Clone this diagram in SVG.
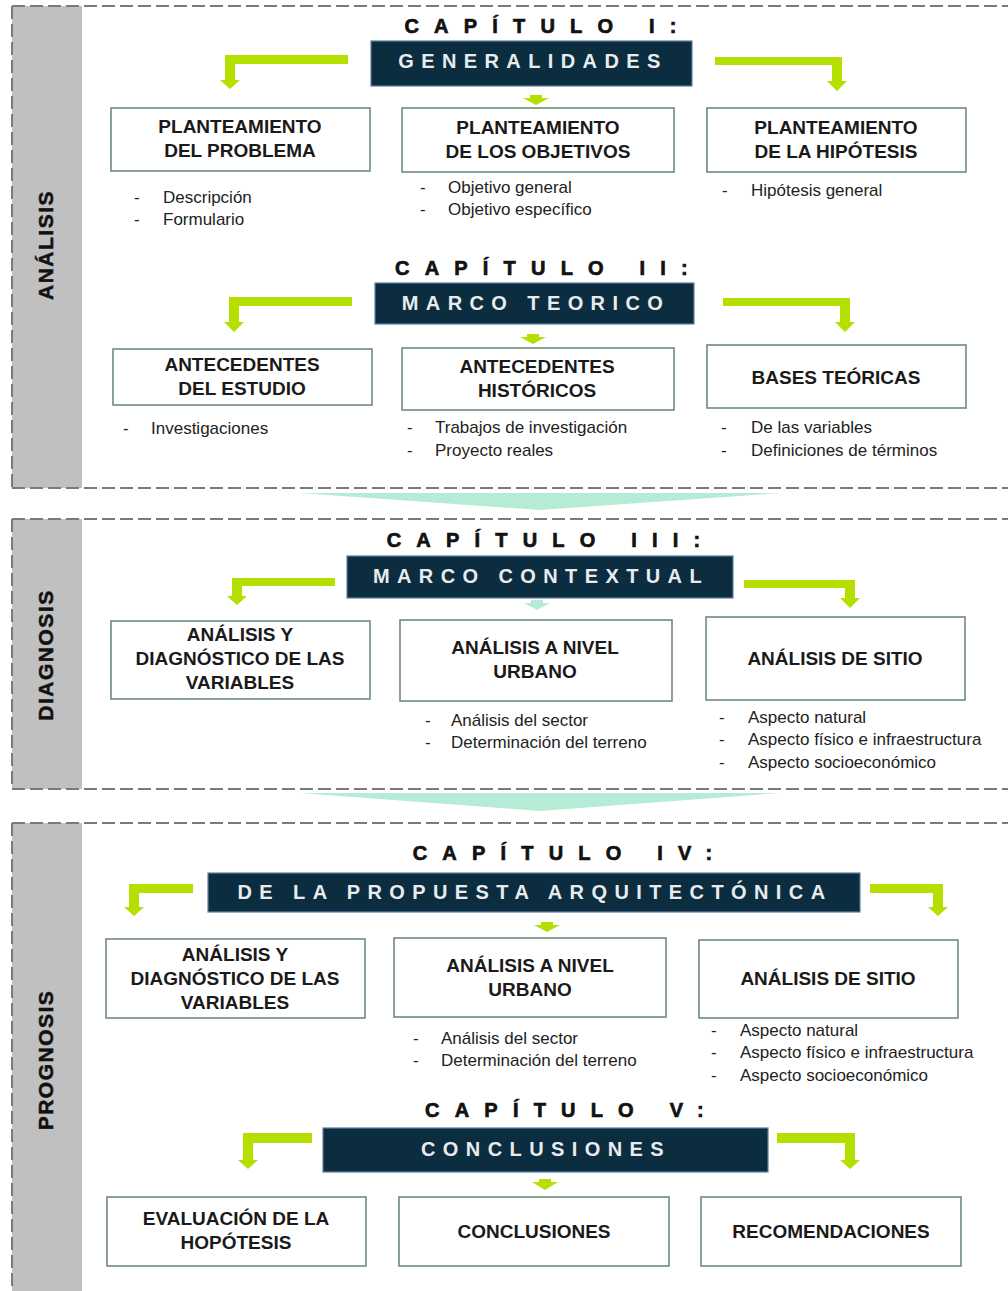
<svg xmlns="http://www.w3.org/2000/svg" width="1008" height="1291" viewBox="0 0 1008 1291">
<style>
.dash{stroke:#7a7a7a;stroke-width:2;stroke-dasharray:13 5;fill:none}
.side{fill:#c0c0c0}
.sidet{font-family:"Liberation Sans",Arial,sans-serif;font-weight:bold;font-size:21px;letter-spacing:1.5px;fill:#111;stroke:#111;stroke-width:0.5;text-anchor:middle}
.head{font-family:"Liberation Sans",Arial,sans-serif;font-weight:bold;font-size:20px;letter-spacing:15.2px;fill:#111;stroke:#111;stroke-width:0.7;text-anchor:middle}
.ban{fill:#0c2d3f;stroke:#5b7fa6;stroke-width:1.2}
.bant{font-family:"Liberation Sans",Arial,sans-serif;font-weight:bold;font-size:20px;letter-spacing:7.4px;fill:#e8ecee;text-anchor:middle}
.box{fill:#fff;stroke:#6d8c78;stroke-width:1.6}
.bt{font-family:"Liberation Sans",Arial,sans-serif;font-weight:bold;font-size:19px;fill:#1a1a1a;text-anchor:middle}
.li{font-family:"Liberation Sans",Arial,sans-serif;font-size:17px;fill:#222}
.lime{fill:#b4df00}
.mint{fill:#b6ecd6}
</style>

<g id="sections">
  <rect class="side" x="12" y="6" width="70" height="482"/>
  <path class="dash" d="M12 6H1008M12 488H1008M12 6V488"/>
  <rect class="side" x="12" y="519" width="70" height="270"/>
  <path class="dash" d="M12 519H1008M12 789H1008M12 519V789"/>
  <rect class="side" x="12" y="823" width="70" height="468"/>
  <path class="dash" d="M12 823H1008M12 823V1291"/>
  <text class="sidet" transform="translate(53,245) rotate(-90)">ANÁLISIS</text>
  <text class="sidet" transform="translate(53,655) rotate(-90)">DIAGNOSIS</text>
  <text class="sidet" transform="translate(53,1060) rotate(-90)">PROGNOSIS</text>
  <polygon class="mint" points="300,493 780,493 540,510"/>
  <polygon class="mint" points="300,793 780,793 540,811"/>
</g>

<g id="connectors">
  <path class="lime" d="M348 55H225V80H220L230 89L240 80H235V64H348Z"/>
  <path class="lime" d="M715 57H842V81H847L837 91L827 81H832V65H715Z"/>
  <path class="lime" d="M530 95H542V98H549L536 105L523 98H530Z"/>
  <path class="lime" d="M352 297H229V322H224L234 332L244 322H239V306H352Z"/>
  <path class="lime" d="M723 298H850V322H855L845 332L835 322H840V306H723Z"/>
  <path class="lime" d="M527 334H539V337H546L533 344L520 337H527Z"/>
  <path class="lime" d="M335 578H232V596H227L237 605L247 596H242V586H335Z"/>
  <path class="lime" d="M744 580H855V598H860L850 608L840 598H845V588H744Z"/>
  <path class="mint" d="M531 600H543V603H550L537 610L524 603H531Z"/>
  <path class="lime" d="M193 884H129V907H124L134 916L144 907H139V893H193Z"/>
  <path class="lime" d="M870 884H943V907H948L938 916L928 907H933V893H870Z"/>
  <path class="lime" d="M541 922H553V925H560L547 932L534 925H541Z"/>
  <path class="lime" d="M312 1133H243V1160H238L248 1169L258 1160H253V1143H312Z"/>
  <path class="lime" d="M777 1133H855V1160H860L850 1169L840 1160H845V1143H777Z"/>
  <path class="lime" d="M539 1179H551V1182H558L545 1190L532 1182H539Z"/>
</g>

<g id="cap1">
  <text class="head" x="548" y="33">CAPÍTULO I:</text>
  <rect class="ban" x="371" y="41" width="321" height="45"/>
  <text class="bant" x="533" y="68">GENERALIDADES</text>
</g>
<g id="n-problema">
  <rect class="box" x="111" y="108" width="259" height="63"/>
  <text class="bt" x="240" y="133">PLANTEAMIENTO</text>
  <text class="bt" x="240" y="157">DEL PROBLEMA</text>
  <text class="li" x="134" y="203">-</text><text class="li" x="163" y="203">Descripción</text>
  <text class="li" x="134" y="225">-</text><text class="li" x="163" y="225">Formulario</text>
</g>
<g id="n-objetivos">
  <rect class="box" x="402" y="108" width="272" height="64"/>
  <text class="bt" x="538" y="134">PLANTEAMIENTO</text>
  <text class="bt" x="538" y="158">DE LOS OBJETIVOS</text>
  <text class="li" x="420" y="193">-</text><text class="li" x="448" y="193">Objetivo general</text>
  <text class="li" x="420" y="215">-</text><text class="li" x="448" y="215">Objetivo específico</text>
</g>
<g id="n-hipotesis">
  <rect class="box" x="707" y="108" width="259" height="64"/>
  <text class="bt" x="836" y="134">PLANTEAMIENTO</text>
  <text class="bt" x="836" y="158">DE LA HIPÓTESIS</text>
  <text class="li" x="722" y="196">-</text><text class="li" x="751" y="196">Hipótesis general</text>
</g>

<g id="cap2">
  <text class="head" x="549" y="275">CAPÍTULO II:</text>
  <rect class="ban" x="375" y="283" width="319" height="41"/>
  <text class="bant" x="536" y="310">MARCO TEORICO</text>
</g>
<g id="n-antecedentes-estudio">
  <rect class="box" x="113" y="349" width="259" height="56"/>
  <text class="bt" x="242" y="371">ANTECEDENTES</text>
  <text class="bt" x="242" y="395">DEL ESTUDIO</text>
  <text class="li" x="123" y="434">-</text><text class="li" x="151" y="434">Investigaciones</text>
</g>
<g id="n-antecedentes-historicos">
  <rect class="box" x="402" y="348" width="272" height="62"/>
  <text class="bt" x="537" y="373">ANTECEDENTES</text>
  <text class="bt" x="537" y="397">HISTÓRICOS</text>
  <text class="li" x="407" y="433">-</text><text class="li" x="435" y="433">Trabajos de investigación</text>
  <text class="li" x="407" y="456">-</text><text class="li" x="435" y="456">Proyecto reales</text>
</g>
<g id="n-bases">
  <rect class="box" x="707" y="345" width="259" height="63"/>
  <text class="bt" x="836" y="384">BASES TEÓRICAS</text>
  <text class="li" x="721" y="433">-</text><text class="li" x="751" y="433">De las variables</text>
  <text class="li" x="721" y="456">-</text><text class="li" x="751" y="456">Definiciones de términos</text>
</g>

<g id="cap3">
  <text class="head" x="551" y="547">CAPÍTULO III:</text>
  <rect class="ban" x="347" y="556" width="386" height="42"/>
  <text class="bant" x="541" y="583">MARCO CONTEXTUAL</text>
</g>
<g id="n-diag-variables">
  <rect class="box" x="111" y="621" width="259" height="78"/>
  <text class="bt" x="240" y="641">ANÁLISIS Y</text>
  <text class="bt" x="240" y="665">DIAGNÓSTICO DE LAS</text>
  <text class="bt" x="240" y="689">VARIABLES</text>
</g>
<g id="n-diag-urbano">
  <rect class="box" x="400" y="620" width="272" height="81"/>
  <text class="bt" x="535" y="654">ANÁLISIS A NIVEL</text>
  <text class="bt" x="535" y="678">URBANO</text>
  <text class="li" x="425" y="726">-</text><text class="li" x="451" y="726">Análisis del sector</text>
  <text class="li" x="425" y="748">-</text><text class="li" x="451" y="748">Determinación del terreno</text>
</g>
<g id="n-diag-sitio">
  <rect class="box" x="706" y="617" width="259" height="83"/>
  <text class="bt" x="835" y="665">ANÁLISIS DE SITIO</text>
  <text class="li" x="719" y="723">-</text><text class="li" x="748" y="723">Aspecto natural</text>
  <text class="li" x="719" y="745">-</text><text class="li" x="748" y="745">Aspecto físico e infraestructura</text>
  <text class="li" x="719" y="768">-</text><text class="li" x="748" y="768">Aspecto socioeconómico</text>
</g>

<g id="cap4">
  <text class="head" x="570" y="860">CAPÍTULO IV:</text>
  <rect class="ban" x="208" y="873" width="652" height="39"/>
  <text class="bant" x="535" y="899">DE LA PROPUESTA ARQUITECTÓNICA</text>
</g>
<g id="n-prog-variables">
  <rect class="box" x="106" y="939" width="259" height="79"/>
  <text class="bt" x="235" y="961">ANÁLISIS Y</text>
  <text class="bt" x="235" y="985">DIAGNÓSTICO DE LAS</text>
  <text class="bt" x="235" y="1009">VARIABLES</text>
</g>
<g id="n-prog-urbano">
  <rect class="box" x="394" y="938" width="272" height="79"/>
  <text class="bt" x="530" y="972">ANÁLISIS A NIVEL</text>
  <text class="bt" x="530" y="996">URBANO</text>
  <text class="li" x="413" y="1044">-</text><text class="li" x="441" y="1044">Análisis del sector</text>
  <text class="li" x="413" y="1066">-</text><text class="li" x="441" y="1066">Determinación del terreno</text>
</g>
<g id="n-prog-sitio">
  <rect class="box" x="699" y="940" width="259" height="78"/>
  <text class="bt" x="828" y="985">ANÁLISIS DE SITIO</text>
  <text class="li" x="711" y="1036">-</text><text class="li" x="740" y="1036">Aspecto natural</text>
  <text class="li" x="711" y="1058">-</text><text class="li" x="740" y="1058">Aspecto físico e infraestructura</text>
  <text class="li" x="711" y="1081">-</text><text class="li" x="740" y="1081">Aspecto socioeconómico</text>
</g>

<g id="cap5">
  <text class="head" x="572" y="1117">CAPÍTULO V:</text>
  <rect class="ban" x="323" y="1128" width="445" height="44"/>
  <text class="bant" x="546" y="1156">CONCLUSIONES</text>
</g>
<g id="n-evaluacion">
  <rect class="box" x="107" y="1197" width="259" height="69"/>
  <text class="bt" x="236" y="1225">EVALUACIÓN DE LA</text>
  <text class="bt" x="236" y="1249">HOPÓTESIS</text>
</g>
<g id="n-conclusiones">
  <rect class="box" x="399" y="1197" width="270" height="69"/>
  <text class="bt" x="534" y="1238">CONCLUSIONES</text>
</g>
<g id="n-recomendaciones">
  <rect class="box" x="701" y="1197" width="260" height="69"/>
  <text class="bt" x="831" y="1238">RECOMENDACIONES</text>
</g>
</svg>
